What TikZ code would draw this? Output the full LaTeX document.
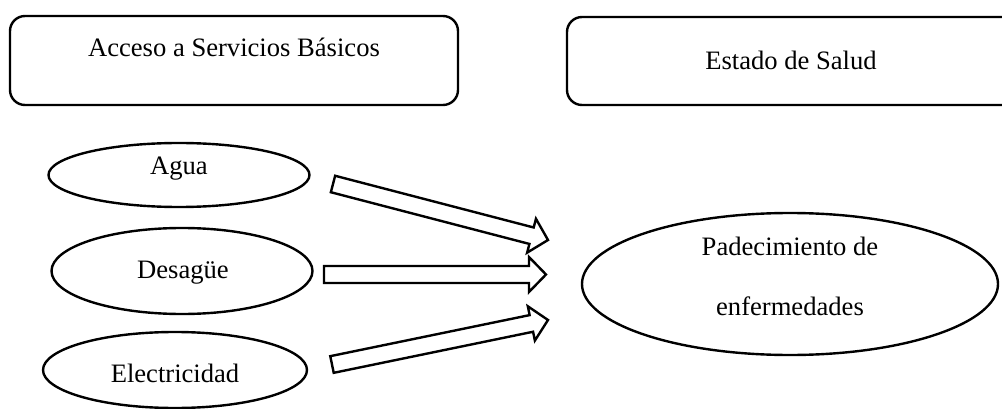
\documentclass[tikz,border=0pt]{standalone}
\usepackage{fontspec}
\setmainfont{Liberation Serif}
\usetikzlibrary{shapes.geometric,calc}
\tikzset{
  box/.style={draw,line width=2.4pt,rounded corners=15pt},
  oval/.style={draw,line width=2.4pt,ellipse,inner sep=0pt},
  lbl/.style={anchor=base,inner sep=0pt,font=\fontsize{26.6}{30}\selectfont},
  fat/.style={draw,line width=2.4pt,fill=white,line join=miter}
}
\newcommand\fatarrow[2]{%
  \path[fat] ($(#1)!8.5pt!90:(#2)$)
    -- ($($(#2)!17pt!(#1)$)!8.5pt!90:(#2)$)
    -- ($($(#2)!17pt!(#1)$)!17.5pt!90:(#2)$)
    -- (#2)
    -- ($($(#2)!17pt!(#1)$)!17.5pt!-90:(#2)$)
    -- ($($(#2)!17pt!(#1)$)!8.5pt!-90:(#2)$)
    -- ($(#1)!8.5pt!-90:(#2)$) -- cycle;}
\begin{document}
\begin{tikzpicture}[x=1pt,y=-1pt]
\useasboundingbox (0,0) rectangle (1002,409);
\clip (0,0) rectangle (1002,409);
% top boxes
\draw[box] (10,16) rectangle (458,105);
\node[lbl] (t1) at (234,57) {Acceso a Servicios Básicos};
\draw[box] (567,17) rectangle (1030,105);
\node[lbl] (t2) at (791,70) {Estado de Salud};
% ellipses
\node[oval,minimum width=261pt,minimum height=64pt] (agua) at (179,175) {};
\node[lbl] (tagua) at (179,175) {Agua};
\node[oval,minimum width=261pt,minimum height=86pt] (des) at (182,271) {};
\node[lbl] (tdes) at (183,278) {Desagüe};
\node[oval,minimum width=264pt,minimum height=76pt] (ele) at (175,370) {};
\node[lbl] (tele) at (175,382) {Electricidad};
\node[oval,minimum width=416pt,minimum height=142pt] (pad) at (790,284) {};
\node[lbl] (tpad1) at (790,255) {Padecimiento de};
\node[lbl] (tpad2) at (790,315) {enfermedades};
% arrows
\coordinate (a1) at (333,184); \coordinate (b1) at (548,240);
\coordinate (a2) at (324,274.5); \coordinate (b2) at (546,274.5);
\coordinate (a3) at (332,364.5); \coordinate (b3) at (548,320);
\fatarrow{a1}{b1}
\fatarrow{a2}{b2}
\fatarrow{a3}{b3}
\end{tikzpicture}
\end{document}
